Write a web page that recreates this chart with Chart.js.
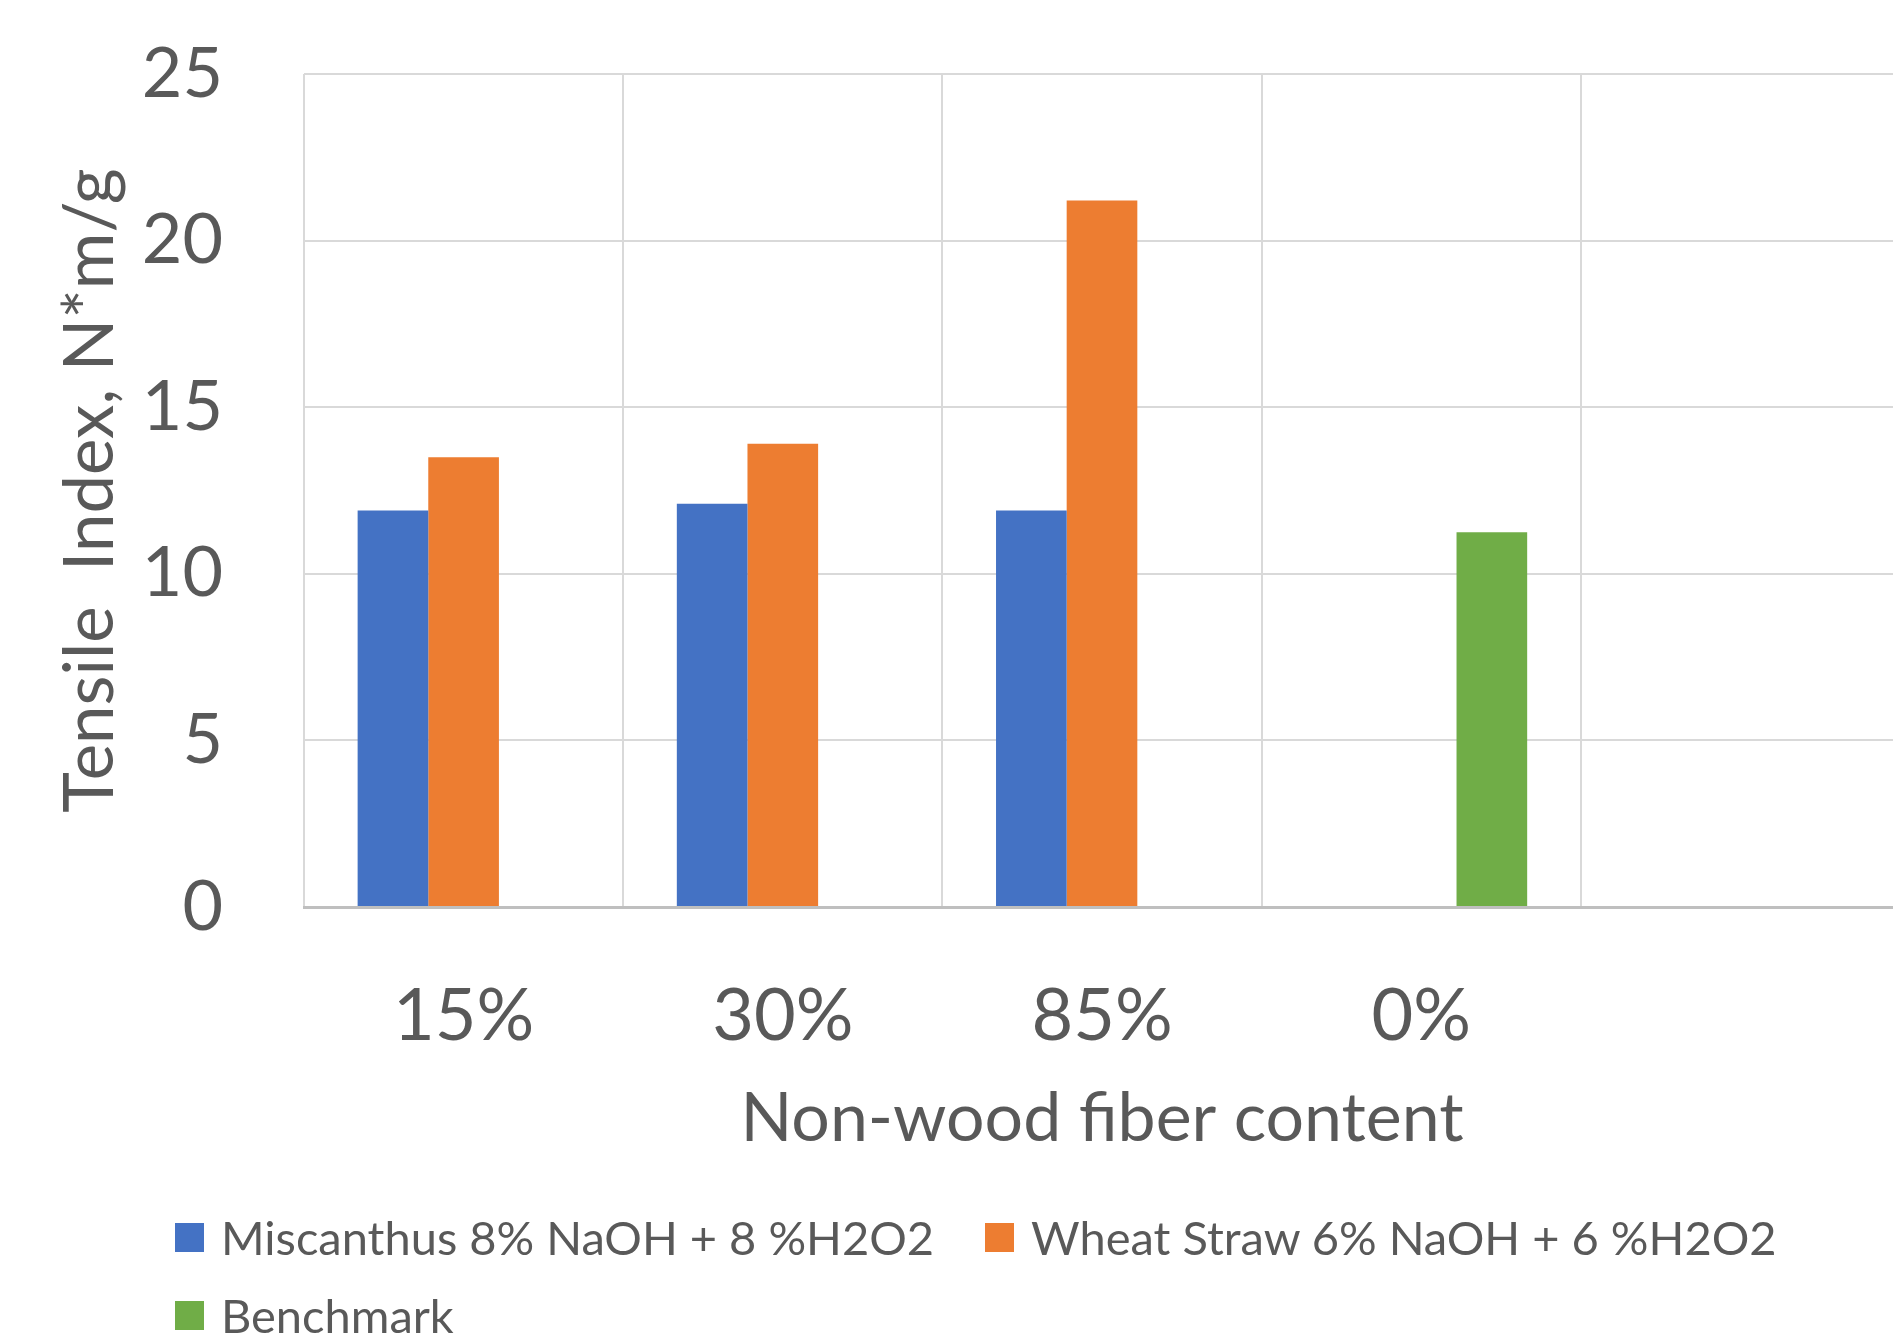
<!DOCTYPE html>
<html>
<head>
<meta charset="utf-8">
<script src="https://cdn.jsdelivr.net/npm/chart.js@4/dist/chart.umd.min.js"></script>
<style>
  body { margin: 0; background: #fff; overflow: hidden; }
  #wrap { position: relative; width: 1900px; height: 1338px; }
  #legend { position: absolute; left: 175px; top: 1198px; width: 1720px; display: flex; flex-wrap: wrap;
            font-family: Lato, sans-serif; font-size: 47px; color: #595959; }
  .item { display: flex; align-items: center; height: 78px; margin-right: 51px; white-space: pre; }
  .box { width: 29px; height: 29px; margin-right: 17px; }
</style>
</head>
<body>
<div id="wrap">
  <canvas id="chart"></canvas>
  <div id="legend"></div>
</div>
<script>
// values
const categories = ["15%", "30%", "85%", "0%", ""];
const miscanthus = [11.9, 12.1, 11.9, null, null];
const wheatStraw = [13.5, 13.9, 21.2, null, null];
const benchmark = [null, null, null, 11.25, null];
const yTicks = [0, 5, 10, 15, 20, 25];

const seriesNames = ["Miscanthus 8% NaOH + 8 %H2O2", "Wheat Straw 6% NaOH + 6 %H2O2", "Benchmark"];
const seriesColors = ["#4472C4", "#ED7D31", "#70AD47"];

const textColor = "#595959";
const font = "Lato";

const chart = new Chart(document.getElementById("chart"), {
    type: 'bar',
    data: {
      labels: categories,
      datasets: [miscanthus, wheatStraw, benchmark].map((d, i) => ({
        label: seriesNames[i],
        data: d,
        backgroundColor: seriesColors[i],
        categoryPercentage: 0.664,
        barPercentage: 1
      }))
    },
    options: {
      responsive: true,
      maintainAspectRatio: false,
      animation: false,
      layout: { padding: { top: 0, bottom: 178, left: 0, right: 0 } },
      plugins: {
        legend: { display: false },
        tooltip: { enabled: false }
      },
      scales: {
        x: {
          grid: { offset: true, color: "#D9D9D9", lineWidth: 2, drawTicks: false },
          border: { color: "#BFBFBF", width: 3 },
          ticks: { color: textColor, font: { family: font, size: 72 }, padding: 67 },
          title: { display: true, text: "Non-wood fiber content", color: textColor,
                   font: { family: font, size: 68 }, padding: { top: 0, bottom: 0 } },
          afterFit: (s) => { s.height = 253; }
        },
        y: {
          min: yTicks[0],
          max: yTicks[yTicks.length - 1],
          afterBuildTicks: (s) => { s.ticks = yTicks.map(v => ({ value: v })); },
          grid: { color: "#D9D9D9", lineWidth: 2, drawTicks: false },
          border: { display: false },
          ticks: { color: textColor, font: { family: font, size: 70 }, padding: 81 },
          title: { display: true, text: "Tensile  Index, N*m/g", color: textColor,
                   font: { family: font, size: 69 }, padding: { top: 49, bottom: 0 } },
          afterFit: (s) => {
            s.width = 304;
            // plot top sits at 74px, the tick padding would push it lower
            s.paddingTop = 74;
            s.paddingBottom = 0;
          }
        }
      }
    }
});

// legend as html text, wraps after two items like the original
const legend = document.getElementById("legend");
seriesNames.forEach((name, i) => {
    const item = document.createElement("div");
    item.className = "item";
    const box = document.createElement("span");
    box.className = "box";
    box.style.background = seriesColors[i];
    item.appendChild(box);
    item.appendChild(document.createTextNode(name));
    legend.appendChild(item);
});
</script>
</body>
</html>
